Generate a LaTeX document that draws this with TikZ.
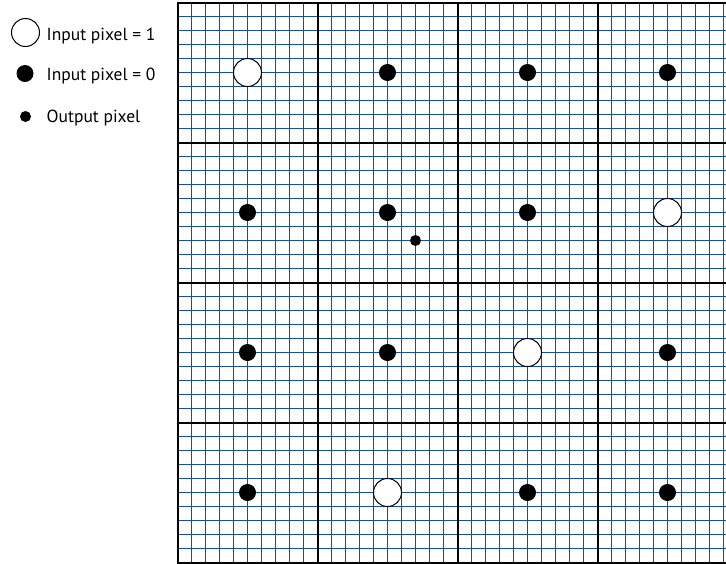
\documentclass[tikz,border=0pt]{standalone}
\usepackage{fontspec}
\setmainfont{PT Sans}
\definecolor{gridblue}{RGB}{18,78,162}
\begin{document}
\begin{tikzpicture}[x=1pt,y=-1pt,
  smallgrid/.style={draw=gridblue,line width=1.2pt},
  biggrid/.style={draw=black,line width=2pt},
  onepix/.style={circle,draw=black,line width=1pt,fill=white,minimum size=28pt,inner sep=0pt},
  zeropix/.style={circle,fill=black,minimum size=17pt,inner sep=0pt},
  outpix/.style={circle,fill=black,minimum size=11pt,inner sep=0pt},
  legtext/.style={anchor=base west,inner sep=0pt,font=\fontsize{17.5}{20}\selectfont}]
\useasboundingbox (0,0) rectangle (726,563);
\def\ox{177.5}\def\oy{2.5}\def\cs{14}
\begin{scope}
\clip (0,0) rectangle (726,563);
\draw[smallgrid] \foreach \i in {0,...,40}{
  ({\ox+\cs*\i},\oy) -- ({\ox+\cs*\i},{\oy+\cs*40})
  (\ox,{\oy+\cs*\i}) -- ({\ox+\cs*40},{\oy+\cs*\i})};
\draw[biggrid] \foreach \i in {0,...,4}{
  ({\ox+0.5+\cs*10*\i},{\oy-0.5}) -- ({\ox+0.5+\cs*10*\i},{\oy+\cs*40+1.5})
  ({\ox-0.5},{\oy+0.5+\cs*10*\i}) -- ({\ox+\cs*40+1.5},{\oy+0.5+\cs*10*\i})};
\end{scope}
% input pixels
\foreach \c/\r/\s in {0/0/onepix,1/0/zeropix,2/0/zeropix,3/0/zeropix,
                      0/1/zeropix,1/1/zeropix,2/1/zeropix,3/1/onepix,
                      0/2/zeropix,1/2/zeropix,2/2/onepix,3/2/zeropix,
                      0/3/zeropix,1/3/onepix,2/3/zeropix,3/3/zeropix}{
  \node[\s] (p\c\r) at ({\ox+\cs*(10*\c+5)},{\oy+\cs*(10*\r+5)}) {};
}
% output pixel
\node[outpix] (out) at ({\ox+\cs*17},{\oy+\cs*17}) {};
% legend
\node[onepix] (l1) at (25.5,32.5) {};
\node[legtext] (t1) at (46.5,40) {Input pixel = 1};
\node[zeropix] (l0) at (25,73.5) {};
\node[legtext] (t0) at (46.5,80) {Input pixel = 0};
\node[outpix] (lo) at (25.5,116.5) {};
\node[legtext] (to) at (46.5,122.5) {Output pixel};
\end{tikzpicture}
\end{document}
